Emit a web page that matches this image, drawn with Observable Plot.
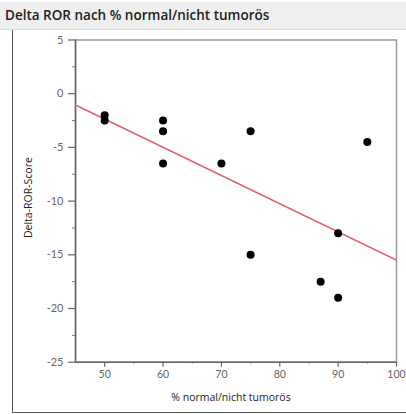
<!DOCTYPE html>
<html><head><meta charset="utf-8">
<script src="https://cdn.jsdelivr.net/npm/d3@7"></script>
<script src="https://cdn.jsdelivr.net/npm/@observablehq/plot@0.6"></script>
<style>
body{margin:0;background:#fff;width:406px;height:414px;overflow:hidden;position:relative;font-family:"Open Sans",sans-serif;}
#title{position:absolute;left:0;top:2px;width:406px;height:28px;background:#efefef;border-bottom:1px solid #d8d8d8;box-sizing:border-box;font-size:13.5px;font-weight:600;color:#222;line-height:26px;padding-left:5px;}
#box{position:absolute;left:12px;top:30px;width:394px;height:383px;border-left:1.5px solid #555;border-bottom:1.5px solid #555;box-sizing:border-box;}
#chart{position:absolute;left:0;top:30px;}
</style></head><body>
<div id="title">Delta ROR nach % normal/nicht tumorös</div>
<div id="box"></div>
<div id="chart"></div>
<script>
const pctNormal = [50, 50, 60, 60, 60, 70, 75, 75, 87, 90, 90, 95];
const deltaROR  = [-2, -2.5, -2.5, -3.5, -6.5, -6.5, -3.5, -15, -17.5, -13, -19, -4.5];
const fitX = [45, 100];
const fitY = [-1.05, -15.5];
const xTicks = [50, 60, 70, 80, 90, 100];
const xMinor = [55, 65, 75, 85, 95];
const yTicks = [5, 0, -5, -10, -15, -20, -25];
const yMinor = [2.5, -2.5, -7.5, -12.5, -17.5, -22.5];
const xLabel = "% normal/nicht tumorös";
const yLabel = "Delta-ROR-Score";

const points = pctNormal.map((x, i) => ({x, y: deltaROR[i]}));
const fit = fitX.map((x, i) => ({x, y: fitY[i]}));
const fmt = d => String(d);

const chart = Plot.plot({
  width: 406, height: 382,
  marginTop: 9.5, marginBottom: 50.3, marginLeft: 75, marginRight: 10,
  style: {fontFamily: "Lato, sans-serif", fontSize: "11px", color: "#555", background: "transparent", overflow: "visible"},
  x: {domain: [45, 100]},
  y: {domain: [-25, 5]},
  marks: [
    Plot.frame({stroke: "#999", strokeWidth: 1.5}),
    Plot.axisY({ticks: yTicks, tickFormat: fmt, tickSize: 7, tickPadding: 5, label: null, stroke: "#666", fill: "#666", strokeWidth: 1.2, fontSize: 11}),
    Plot.axisY({ticks: yMinor, tickSize: 3, text: null, label: null, stroke: "#777"}),
    Plot.axisX({ticks: xTicks, tickFormat: fmt, tickSize: 5, tickPadding: 3, label: null, stroke: "#666", fill: "#666", strokeWidth: 1.2, fontSize: 10.5}),
    Plot.axisX({ticks: xMinor, tickSize: 2, text: null, label: null, stroke: "#777"}),
    Plot.ruleX([45], {stroke: "#666", strokeWidth: 1.5}),
    Plot.ruleY([-25], {stroke: "#666", strokeWidth: 1.5}),
    Plot.line(fit, {x: "x", y: "y", stroke: "#e5606d", strokeWidth: 1.6, clip: true}),
    Plot.dot(points, {x: "x", y: "y", r: 4, fill: "#000", stroke: null}),
    Plot.text([xLabel], {frameAnchor: "bottom", dy: 39, dx: -5, text: d => d, fill: "#222", fontSize: 10.5, fontFamily: "Open Sans, sans-serif"}),
    Plot.text([yLabel], {frameAnchor: "left", textAnchor: "middle", dx: -47, dy: -3.5, rotate: -90, text: d => d, fill: "#222", fontSize: 10.5, fontFamily: "Open Sans, sans-serif"})
  ]
});
document.getElementById("chart").appendChild(chart);
</script>
</body></html>
